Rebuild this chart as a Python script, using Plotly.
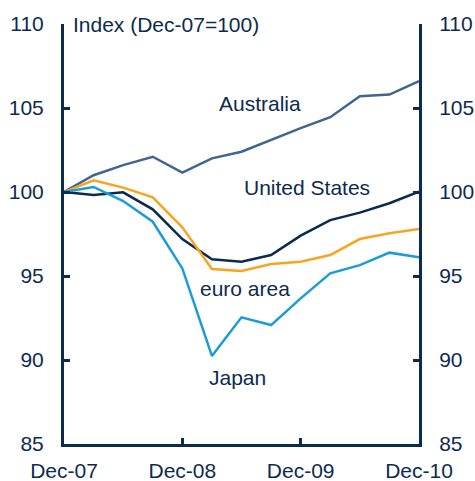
import plotly.graph_objects as go

quarters = list(range(13))
tick_vals = [0, 4, 8, 12]
tick_text = ["Dec-07", "Dec-08", "Dec-09", "Dec-10"]

australia = [100, 101.0, 101.6, 102.1, 101.15, 102.0, 102.4, 103.1, 103.8, 104.45, 105.7, 105.8, 106.6]
united_states = [100, 99.82, 99.98, 98.97, 97.2, 96.0, 95.85, 96.25, 97.4, 98.33, 98.77, 99.33, 100.02]
euro_area = [100, 100.7, 100.26, 99.68, 97.9, 95.42, 95.3, 95.71, 95.85, 96.25, 97.2, 97.55, 97.8]
japan = [100, 100.3, 99.46, 98.23, 95.45, 90.24, 92.54, 92.08, 93.67, 95.16, 95.65, 96.39, 96.11]

NAVY = "#0d2b50"
FONT = "Arial, Liberation Sans, sans-serif"
FS = 21

series = [
    ("Australia", australia, "#40658f"),
    ("United States", united_states, "#0a2a50"),
    ("euro area", euro_area, "#f7a520"),
    ("Japan", japan, "#1a9cd8"),
]

fig = go.Figure()
for name, vals, col in series:
    fig.add_trace(go.Scatter(x=quarters, y=vals, mode="lines", name=name,
                             line=dict(color=col, width=2.5), showlegend=False))
# invisible trace to anchor the right axis
fig.add_trace(go.Scatter(x=[0], y=[100], yaxis="y2", mode="markers",
                         marker=dict(opacity=0), showlegend=False, hoverinfo="skip"))

labels = [
    ("Australia", 6.62, 105.27),
    ("United States", 8.2, 100.27),
    ("euro area", 6.13, 94.23),
    ("Japan", 5.87, 88.96),
]
for text, x, y in labels:
    fig.add_annotation(x=x, y=y, text=text, showarrow=False,
                       font=dict(size=FS, color=NAVY, family=FONT),
                       xanchor="center", yanchor="middle")
fig.add_annotation(x=0.25, y=1.0, yref="paper", text="Index (Dec-07=100)", showarrow=False,
                   font=dict(size=FS, color=NAVY, family=FONT),
                   xanchor="left", yanchor="middle")

yax = dict(range=[85, 110], tickvals=[85, 90, 95, 100, 105, 110],
           ticks="inside", ticklen=6, tickwidth=3, tickcolor=NAVY,
           showline=True, linecolor=NAVY, linewidth=3,
           showgrid=False, zeroline=False, ticklabelstandoff=13,
           automargin=False,
           tickfont=dict(size=FS, color=NAVY, family=FONT))

fig.update_layout(
    width=475, height=481,
    margin=dict(l=64, r=56, t=24, b=37, autoexpand=False),
    paper_bgcolor="white", plot_bgcolor="white",
    xaxis=dict(range=[0, 12], tickvals=tick_vals, ticktext=tick_text,
               ticks="inside", ticklen=6, tickwidth=3, tickcolor=NAVY,
               showline=True, linecolor=NAVY, linewidth=3,
               showgrid=False, zeroline=False, automargin=False,
               ticklabelstandoff=6,
               tickfont=dict(size=FS, color=NAVY, family=FONT)),
    yaxis=dict(side="left", **yax),
    yaxis2=dict(side="right", overlaying="y", **yax),
)

fig.write_html("out.html", config={"displayModeBar": False},
               post_script="document.body.style.margin='0';document.body.style.overflow='hidden';")
